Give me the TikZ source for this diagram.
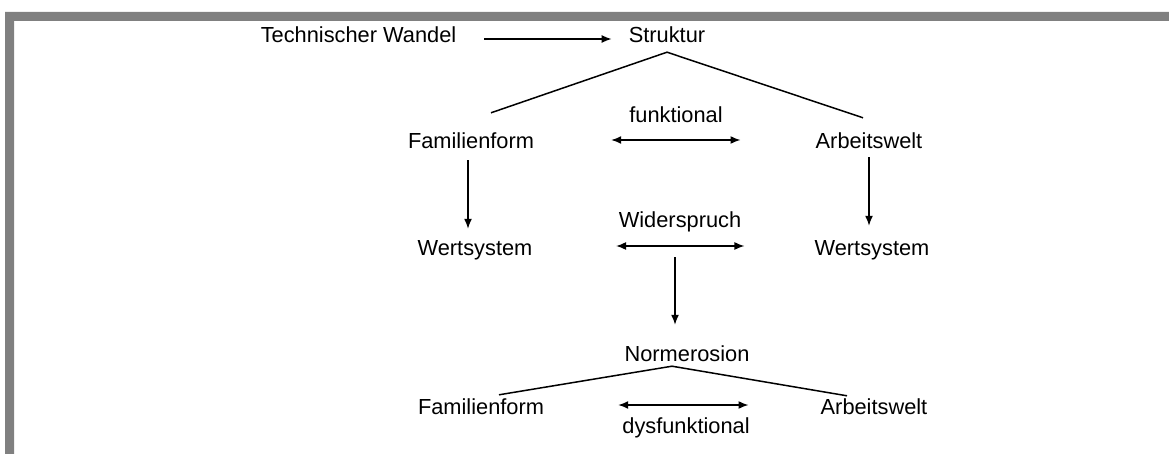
\documentclass[tikz,border=0pt]{standalone}
\usepackage{fontspec}
\setmainfont{Liberation Sans}
\usetikzlibrary{positioning}
\usetikzlibrary{arrows.meta}

\definecolor{frameGray}{RGB}{128,128,128}
\tikzstyle{blockT} = [text centered, inner sep=0pt, text height=16pt, text depth=5pt, font=\fontsize{21.8pt}{26pt}\selectfont]
\tikzstyle{arrow} = [draw, line width=1.5pt, -{Latex[length=10pt, width=8pt]}]
\tikzstyle{darrow} = [draw, line width=1.5pt, {Latex[length=10pt, width=8pt]}-{Latex[length=10pt, width=8pt]}]
\tikzstyle{line} = [draw, line width=1.5pt]

\begin{document}
\begin{tikzpicture}[x=1pt, y=1pt, node distance=100pt, auto]
    \useasboundingbox (0,0) rectangle (1169,-454);
    % frame
    \fill [frameGray] (5,-454) -- (5,-12) -- (1169,-12) -- (1169,-21) -- (14,-21) -- (14,-454) -- cycle;

    \node [blockT] (st) at (667,-37.5) {Struktur};
    \node [blockT, left of=st, node distance=308.5pt] (tw) {Technischer Wandel};
    \node [blockT, below of=st, node distance=80pt, xshift=9pt] (fk) {funktional};
    \node [blockT, below of=st, node distance=106pt, xshift=-196pt] (ff1) {Familienform};
    \node [blockT, right of=ff1, node distance=398pt] (aw1) {Arbeitswelt};
    \node [blockT, below of=ff1, node distance=106pt, xshift=4pt] (ws1) {Wertsystem};
    \node [blockT, right of=ws1, node distance=397pt] (ws2) {Wertsystem};
    \node [blockT, below of=fk, node distance=105pt, xshift=4pt] (wd) {Widerspruch};
    \node [blockT, below of=wd, node distance=133pt, xshift=7pt] (ne) {Normerosion};
    \node [blockT, below of=ws1, node distance=159pt, xshift=6pt] (ff2) {Familienform};
    \node [blockT, right of=ff2, node distance=393pt] (aw2) {Arbeitswelt};
    \node [blockT, below of=ne, node distance=72pt, xshift=-1pt] (df) {dysfunktional};

    \draw [arrow, shorten <=28pt, shorten >=17pt] ([yshift=-1.5pt]tw.east) to ([yshift=-1.5pt]st.west);
    \draw [line] ([yshift=-4pt]st.south) to ([shift={(20pt,20pt)}]ff1.north);
    \draw [line] ([yshift=-4pt]st.south) to ([shift={(-6pt,15pt)}]aw1.north);
    \draw [darrow, shorten <=77pt, shorten >=75pt] ([yshift=3.5pt]ff1.east) to ([yshift=3.5pt]aw1.west);

    \draw [arrow, shorten <=6pt, shorten >=10pt] ([xshift=-3pt]ff1.south) to ([xshift=-3pt]ff1.south |- ws1.north);
    \draw [arrow, shorten <=3pt, shorten >=13pt] (aw1.south) to (aw1.south |- ws2.north);
    \draw [darrow, shorten <=83.5pt, shorten >=70pt] ([yshift=3.5pt]ws1.east) to ([yshift=3.5pt]ws2.west);

    \draw [arrow, shorten <=24pt, shorten >=20pt] ([xshift=-5pt]wd.south) to ([xshift=-5pt]wd.south |- ne.north);

    \draw [line] ([xshift=-15pt]ne.south) to ([shift={(18pt,3pt)}]ff2.north);
    \draw [line] ([xshift=-15pt]ne.south) to ([shift={(-27pt,2pt)}]aw2.north);
    \draw [darrow, shorten <=74pt, shorten >=72pt] ([yshift=3.5pt]ff2.east) to ([yshift=3.5pt]aw2.west);
  \end{tikzpicture}
\end{document}
